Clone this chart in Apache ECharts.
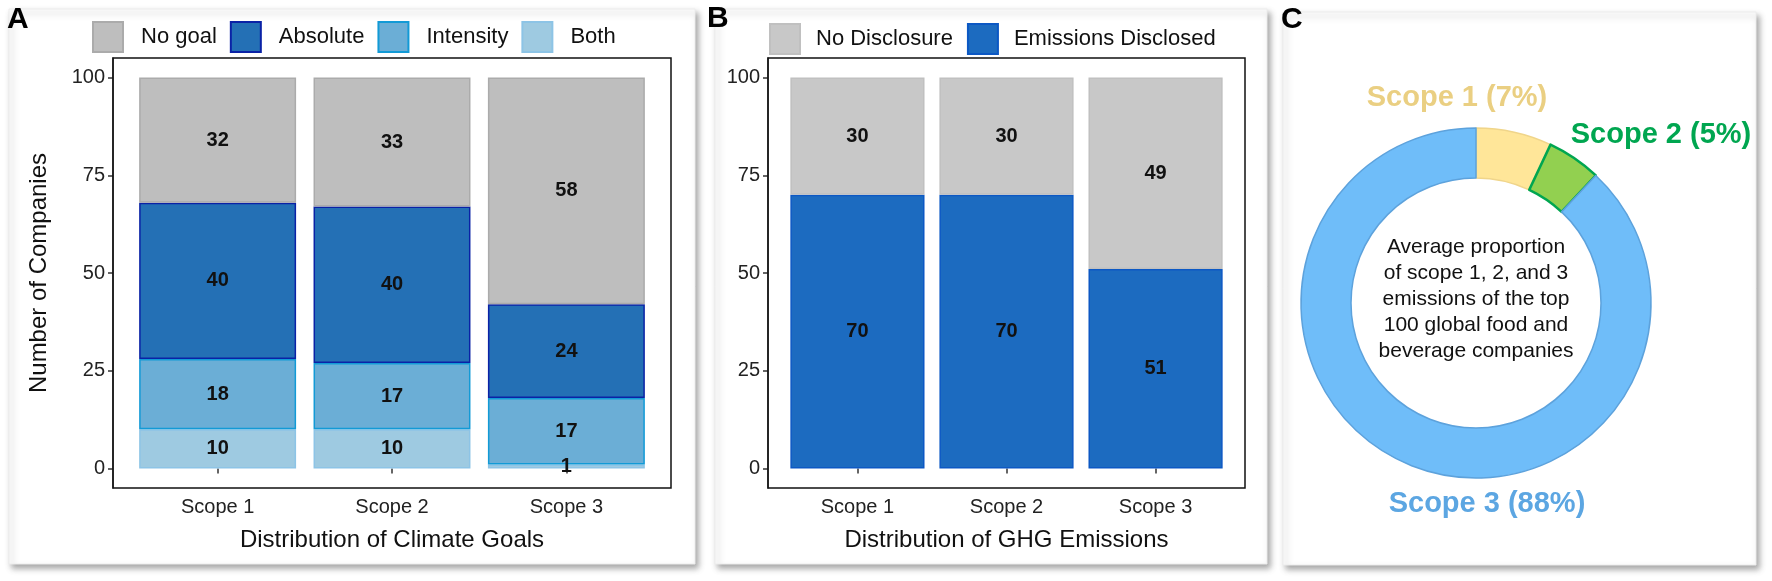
<!DOCTYPE html>
<html>
<head>
<meta charset="utf-8">
<script src="https://cdn.jsdelivr.net/npm/echarts@6/dist/echarts.min.js"></script>
<style>
html,body{margin:0;padding:0;background:#fff;}
#chart{width:1772px;height:581px;}
</style>
</head>
<body>
<div id="chart"></div>
<script>
// ---- data ----
const categories = ['Scope 1', 'Scope 2', 'Scope 3'];
const goalNames = ['No goal', 'Absolute', 'Intensity', 'Both'];
const noGoal = [32, 33, 58];
const absoluteGoal = [40, 40, 24];
const intensityGoal = [18, 17, 17];
const bothGoal = [10, 10, 1];
const disclosureNames = ['No Disclosure', 'Emissions Disclosed'];
const noDisclosure = [30, 30, 49];
const emissionsDisclosed = [70, 70, 51];
const scopeNames = ['Scope 1', 'Scope 2', 'Scope 3'];
const scopeShares = [7, 5, 88];
const yTicks = [0, 25, 50, 75, 100];
const centerText = ['Average proportion', 'of scope 1, 2, and 3', 'emissions of the top', '100 global food and', 'beverage companies'];

// ---- layout / style ----
const FONT = '"Liberation Sans", Arial, Helvetica, sans-serif';
const panelA = {left: 113, right: 671, top: 58, bottom: 488};
const panelB = {left: 768, right: 1245, top: 58, bottom: 488};
function gridFor(p) {
  const u = (p.right - p.left) / 3.2; // ggplot discrete expansion 0.6 each side
  return {left: p.left + 0.1 * u, right: 1772 - (p.right - 0.1 * u), top: p.top, bottom: 581 - p.bottom, offset: 0.1 * u};
}
const gA = gridFor(panelA), gB = gridFor(panelB);

const colors = {
  noGoal: {fill: '#BEBEBE', border: '#ABABAB'},
  absolute: {fill: '#2470B5', border: '#0A22A6'},
  intensity: {fill: '#6BAED6', border: '#129AD6'},
  both: {fill: '#9ECAE1', border: '#8DC4E6'},
  noDisc: {fill: '#C8C8C8', border: '#C0C0C0'},
  disc: {fill: '#1C6BC0', border: '#0C58C4'}
};
const pieColors = [
  {fill: '#FFE699', border: '#F0D58A', label: '#EACF82'},
  {fill: '#92D050', border: '#00A650', label: '#00A650'},
  {fill: '#6FBDF9', border: '#5DA2DC', label: '#5CA6E2'}
];
const pieCenter = [1476, 303];
const pieLabelPos = [[1457, 98], [1661, 135], [1487, 504]];

const barLabel = {show: true, position: 'inside', formatter: '{c}', fontFamily: FONT, fontWeight: 'bold', fontSize: 20, color: '#111'};

function xAxisFor(gridIndex, name) {
  return {
    type: 'category', gridIndex, data: categories,
    axisLine: {show: false},
    axisTick: {show: true, alignWithLabel: true, length: 5, lineStyle: {color: '#333', width: 1.5}},
    axisLabel: {fontFamily: FONT, fontSize: 20, color: '#222', margin: 9},
    name, nameLocation: 'middle', nameGap: 40,
    nameTextStyle: {fontFamily: FONT, fontSize: 24, color: '#111'}
  };
}
function yAxisFor(gridIndex, offset, name) {
  return {
    type: 'value', gridIndex, min: -5, max: 105, offset,
    splitLine: {show: false},
    axisLine: {show: true, lineStyle: {color: '#333', width: 1.5}},
    axisTick: {show: true, length: 5, customValues: yTicks, lineStyle: {color: '#333', width: 1.5}},
    axisLabel: {customValues: yTicks, fontFamily: FONT, fontSize: 20, color: '#222', margin: 8},
    name: name || '', nameLocation: 'middle', nameGap: 62, nameRotate: 90,
    nameTextStyle: {fontFamily: FONT, fontSize: 24, color: '#111'}
  };
}
function barSeries(name, data, c, xi, stack) {
  return {
    name, type: 'bar', stack, data, xAxisIndex: xi, yAxisIndex: xi,
    barWidth: '90%',
    itemStyle: {color: c.fill, borderColor: c.border, borderWidth: 1.5},
    label: barLabel,
    emphasis: {disabled: true}
  };
}

const cardStyle = {fill: '#fff', stroke: '#ececec', lineWidth: 1, shadowBlur: 6, shadowOffsetX: 3, shadowOffsetY: 4, shadowColor: 'rgba(0,0,0,0.35)'};
const graphics = [
  {type: 'rect', z: 0, shape: {x: 9, y: 9, width: 686, height: 555}, style: cardStyle},
  {type: 'rect', z: 0, shape: {x: 715, y: 9, width: 552, height: 555}, style: cardStyle},
  {type: 'rect', z: 0, shape: {x: 1283, y: 12, width: 473, height: 553}, style: cardStyle},
  {type: 'rect', z: 10, shape: {x: panelA.left, y: panelA.top, width: panelA.right - panelA.left, height: panelA.bottom - panelA.top}, style: {fill: 'none', stroke: '#111', lineWidth: 1.5}},
  {type: 'rect', z: 10, shape: {x: panelB.left, y: panelB.top, width: panelB.right - panelB.left, height: panelB.bottom - panelB.top}, style: {fill: 'none', stroke: '#111', lineWidth: 1.5}},
  {type: 'text', z: 10, x: 7, y: 20, style: {text: 'A', font: 'bold 30px ' + FONT, fill: '#000', textVerticalAlign: 'middle'}},
  {type: 'text', z: 10, x: 707, y: 19, style: {text: 'B', font: 'bold 30px ' + FONT, fill: '#000', textVerticalAlign: 'middle'}},
  {type: 'text', z: 10, x: 1281, y: 20, style: {text: 'C', font: 'bold 30px ' + FONT, fill: '#000', textVerticalAlign: 'middle'}},
  {type: 'text', z: 10, x: pieCenter[0], y: pieCenter[1] - 4, style: {text: centerText.join('\n'), font: '21px ' + FONT, lineHeight: 26, fill: '#111', textAlign: 'center', textVerticalAlign: 'middle'}}
];

const option = {
  animation: false,
  backgroundColor: '#fff',
  graphic: {elements: graphics},
  legend: [
    {
      data: goalNames, left: 87, top: 16, itemWidth: 30, itemHeight: 30, itemGap: 13,
      icon: 'rect', selectedMode: false,
      textStyle: {fontFamily: FONT, fontSize: 22, color: '#111', padding: [0, 0, 0, 13]}
    },
    {
      data: disclosureNames, left: 764, top: 18, itemWidth: 30, itemHeight: 30, itemGap: 14,
      icon: 'rect', selectedMode: false,
      textStyle: {fontFamily: FONT, fontSize: 22, color: '#111', padding: [0, 0, 0, 11]}
    }
  ],
  grid: [
    {left: gA.left, right: gA.right, top: gA.top, bottom: gA.bottom},
    {left: gB.left, right: gB.right, top: gB.top, bottom: gB.bottom}
  ],
  xAxis: [xAxisFor(0, 'Distribution of Climate Goals'), xAxisFor(1, 'Distribution of GHG Emissions')],
  yAxis: [yAxisFor(0, gA.offset, 'Number of Companies'), yAxisFor(1, gB.offset, '')],
  series: [
    barSeries('Both', bothGoal, colors.both, 0, 'goals'),
    barSeries('Intensity', intensityGoal, colors.intensity, 0, 'goals'),
    barSeries('Absolute', absoluteGoal, colors.absolute, 0, 'goals'),
    barSeries('No goal', noGoal, colors.noGoal, 0, 'goals'),
    barSeries('Emissions Disclosed', emissionsDisclosed, colors.disc, 1, 'ghg'),
    barSeries('No Disclosure', noDisclosure, colors.noDisc, 1, 'ghg'),
    {
      type: 'pie', center: pieCenter, radius: [125, 175], startAngle: 90, clockwise: true,
      silent: true, emphasis: {disabled: true},
      data: scopeNames.map((n, i) => ({
        name: n, value: scopeShares[i],
        itemStyle: {color: pieColors[i].fill, borderColor: pieColors[i].border, borderWidth: i === 1 ? 2.5 : 1.5},
        label: {color: pieColors[i].label}
      })),
      label: {
        show: true, position: 'outside', fontFamily: FONT, fontWeight: 'bold', fontSize: 29,
        overflow: 'none', width: 260, alignTo: 'none',
        formatter: p => p.name + ' (' + p.value + '%)'
      },
      labelLine: {show: false},
      labelLayout: p => ({x: pieLabelPos[p.dataIndex][0], y: pieLabelPos[p.dataIndex][1], align: 'center', verticalAlign: 'middle'})
    }
  ]
};

const chart = echarts.init(document.getElementById('chart'), null, {renderer: 'canvas'});
chart.setOption(option);
</script>
</body>
</html>
